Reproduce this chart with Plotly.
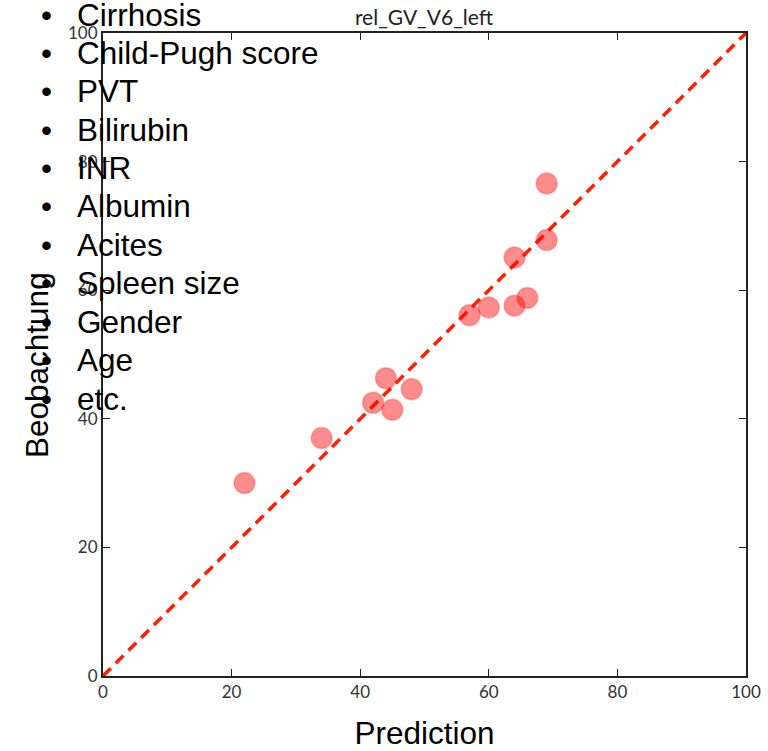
import plotly.graph_objects as go

# Data
prediction = [22, 34, 42, 44, 45, 48, 57, 60, 64, 66, 64, 69, 69]
observation = [30, 37, 42.5, 46.3, 41.4, 44.6, 56.1, 57.3, 57.6, 58.8, 65.1, 67.8, 76.6]
identity_line = [0, 100]
tick_vals = [0, 20, 40, 60, 80, 100]
bullet_items = ["Cirrhosis", "Child-Pugh score", "PVT", "Bilirubin", "INR",
                "Albumin", "Acites", "Spleen size", "Gender", "Age", "etc."]
chart_title = "rel_GV_V6_left"
x_title = "Prediction"
y_title = "Beobachtung"

W, H = 768, 751
ML, MR, MT, MB = 103, 22, 33, 75
PW = W - ML - MR
PH = H - MT - MB


def px_to_paper_x(px):
    return (px - ML) / PW


def py_to_paper_y(py):
    return (H - MB - py) / PH


fig = go.Figure()

fig.add_trace(go.Scatter(
    x=identity_line, y=identity_line, mode="lines",
    line=dict(color="rgb(255,30,0)", width=3.5, dash="11px,7px"),
    showlegend=False, hoverinfo="skip"))

fig.add_trace(go.Scatter(
    x=prediction, y=observation, mode="markers",
    marker=dict(size=21, color="rgba(255,0,0,0.45)",
                line=dict(color="rgba(255,0,0,0.25)", width=1.5)),
    showlegend=False))

axis_common = dict(
    range=[0, 100], tickvals=tick_vals, showgrid=False, zeroline=False,
    showline=True, linecolor="#222", linewidth=2, mirror="ticks",
    ticks="inside", ticklen=7, tickwidth=1.2, tickcolor="#222",
    tickfont=dict(family="Lato", size=17, color="#333"),
)

fig.update_xaxes(**axis_common,
                 title=dict(text=x_title, font=dict(family="Liberation Sans", size=31.5, color="black"),
                            standoff=25))
fig.update_yaxes(**axis_common)

annotations = []
spacing = 38.4
first_center = 13.5
for i, item in enumerate(bullet_items):
    cy = first_center + i * spacing
    annotations.append(dict(
        x=px_to_paper_x(46), y=py_to_paper_y(cy + 1), xref="paper", yref="paper",
        text="•", showarrow=False, xanchor="center", yanchor="middle",
        font=dict(family="Liberation Sans", size=31.5, color="black")))
    annotations.append(dict(
        x=px_to_paper_x(75), y=py_to_paper_y(cy + 1), xref="paper", yref="paper",
        text=item, showarrow=False, xanchor="left", yanchor="middle",
        font=dict(family="Liberation Sans", size=31.5, color="black")))

# y-axis title placed as a rotated annotation
annotations.append(dict(
    x=px_to_paper_x(37), y=py_to_paper_y(365), xref="paper", yref="paper",
    text=y_title, textangle=-90, showarrow=False, xanchor="center", yanchor="middle",
    font=dict(family="Liberation Sans", size=31.5, color="black")))

fig.update_layout(
    width=W, height=H,
    margin=dict(l=ML, r=MR, t=MT, b=MB, autoexpand=False),
    paper_bgcolor="white", plot_bgcolor="white",
    title=dict(text=chart_title, x=px_to_paper_x(424), xref="paper", xanchor="center",
               y=1 - 18 / H, yref="container", yanchor="middle",
               font=dict(family="Lato", size=21, color="#222")),
    annotations=annotations,
)

fig.write_html("out.html",
               config={"displayModeBar": False},
               post_script="document.body.style.margin='0';document.body.style.overflow='hidden';")
